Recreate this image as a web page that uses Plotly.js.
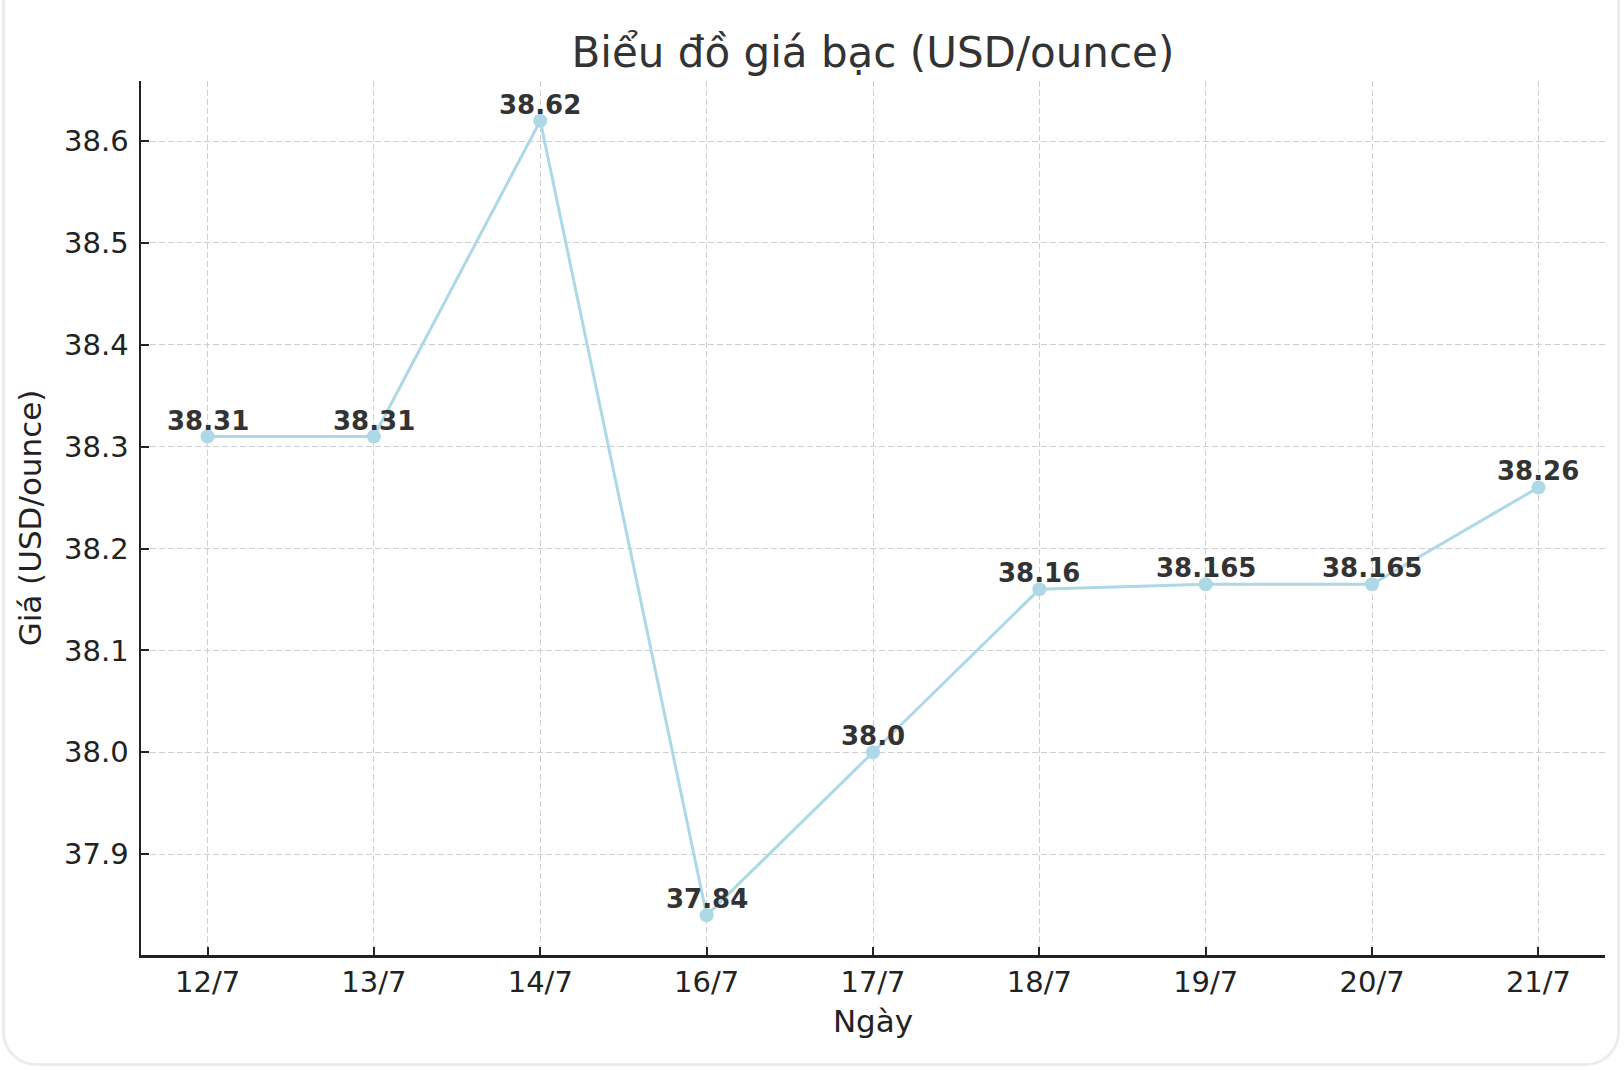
<!DOCTYPE html>
<html>
<head>
<meta charset="utf-8">
<script src="https://cdn.plot.ly/plotly-3.0.1.min.js"></script>
<style>
html,body{margin:0;padding:0;background:#fff;}
#wrap{position:relative;width:1624px;height:1070px;overflow:hidden;}
#chart{position:absolute;left:0;top:0;width:1624px;height:1070px;}
#frame{position:absolute;left:2px;top:-40px;width:1618px;height:1106px;border:3px solid #ececec;border-radius:34px;box-sizing:border-box;pointer-events:none;}
</style>
</head>
<body>
<div id="wrap"><div id="chart"></div><div id="frame"></div></div>
<script>
const dates = ["12/7","13/7","14/7","16/7","17/7","18/7","19/7","20/7","21/7"];
const prices = [38.31, 38.31, 38.62, 37.84, 38.0, 38.16, 38.165, 38.165, 38.26];
const yTicks = [37.9, 38.0, 38.1, 38.2, 38.3, 38.4, 38.5, 38.6];

const FONT = "DejaVu Sans, Verdana, sans-serif";
const idx = dates.map((d,i)=>i);
const labels = prices.map(v => Number.isInteger(Math.round(v*1000)/100) ? v.toFixed(1) : String(v));

const trace = {
  x: idx, y: prices, type: "scatter", mode: "lines+markers",
  line: {color: "#add8e6", width: 3},
  marker: {color: "#add8e6", size: 14},
  hoverinfo: "skip", showlegend: false
};

const annotations = idx.map((i,k)=>({
  x: i, y: prices[k], xref: "x", yref: "y",
  text: "<b>" + labels[k] + "</b>", showarrow: false,
  xanchor: "center", yanchor: "bottom", yshift: -1,
  font: {family: FONT, size: 26, color: "#333333"}
}));

const layout = {
  width: 1624, height: 1070,
  paper_bgcolor: "rgba(0,0,0,0)", plot_bgcolor: "rgba(0,0,0,0)",
  margin: {l: 141, r: 19, t: 81, b: 115, pad: 0},
  title: {text: "Biểu đồ giá bạc (USD/ounce)", font: {family: FONT, size: 42, color: "#333333"},
          x: 0.5375, xanchor: "center", xref: "container", y: 1 - 52/1070, yref: "container", yanchor: "middle"},
  xaxis: {
    range: [-0.4, dates.length - 1 + 0.4],
    tickmode: "array", tickvals: idx, ticktext: dates,
    ticks: "inside", ticklen: 8, tickwidth: 2, tickcolor: "#222",
    showline: true, linecolor: "#222", linewidth: 2.5,
    showgrid: true, gridcolor: "#cfcfcf", gridwidth: 1, griddash: "6px,3px",
    zeroline: false, automargin: false,
    tickfont: {family: FONT, size: 29, color: "#222"},
    title: {text: "Ngày", font: {family: FONT, size: 31, color: "#222"}, standoff: 12}
  },
  yaxis: {
    range: [37.801, 38.659],
    tickmode: "array", tickvals: yTicks, ticktext: yTicks.map(v=>v.toFixed(1)),
    ticks: "inside", ticklen: 8, tickwidth: 2, tickcolor: "#222",
    showline: true, linecolor: "#222", linewidth: 2.5,
    showgrid: true, gridcolor: "#cfcfcf", gridwidth: 1, griddash: "6px,3px",
    zeroline: false, automargin: false, ticklabelstandoff: 4,
    tickfont: {family: FONT, size: 29, color: "#222"},
    title: {text: "Giá (USD/ounce)", font: {family: FONT, size: 31, color: "#222"}, standoff: 14}
  },
  annotations: annotations
};

Plotly.newPlot("chart", [trace], layout, {displayModeBar: false, staticPlot: true});
</script>
</body>
</html>
